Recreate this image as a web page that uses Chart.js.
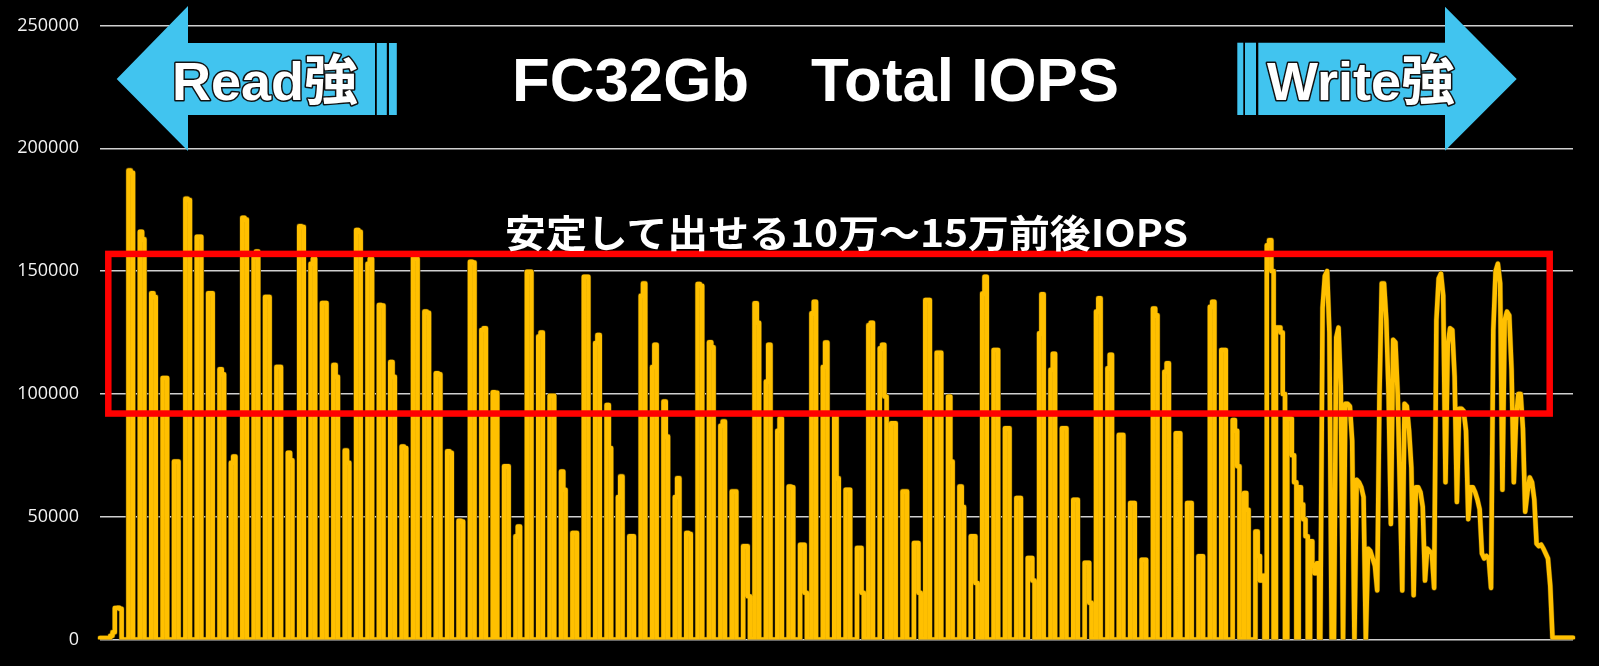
<!DOCTYPE html>
<html lang="ja">
<head>
<meta charset="utf-8">
<title>FC32Gb Total IOPS</title>
<script src="https://cdn.jsdelivr.net/npm/chart.js@4.4.1/dist/chart.umd.min.js"></script>
<style>
    html, body { margin: 0; padding: 0; background: #000; }
    #wrap { position: relative; width: 1599px; height: 666px; overflow: hidden; background: #000; }
    #wrap canvas { position: absolute; left: 0; top: 0; }
    #overlay { position: absolute; left: 0; top: 0; pointer-events: none; }
    .arrowText { font-family: "Liberation Sans", "Noto Sans CJK JP", sans-serif; font-weight: bold; font-size: 54px;
                 fill: #fff; stroke: #111; stroke-width: 3px; paint-order: stroke fill; stroke-linejoin: round; }
</style>
</head>
<body>
<div id="wrap">
    <canvas id="iopsChart" width="1599" height="666"></canvas>
    <svg id="overlay" width="1599" height="666" viewBox="0 0 1599 666" xmlns="http://www.w3.org/2000/svg">
        <!-- Read強 (左向き矢印) -->
        <g fill="#41c4ef">
            <polygon points="116.7,79 188,6 188,43 375,43 375,115 188,115 188,151"/>
            <rect x="376.8" y="43" width="10" height="72"/>
            <rect x="389" y="43" width="7.8" height="72"/>
        </g>
        <text class="arrowText" x="172" y="99.5">Read強</text>

        <!-- Write強 (右向き矢印) -->
        <g fill="#41c4ef">
            <rect x="1237.3" y="42.7" width="6" height="72.3"/>
            <rect x="1245" y="42.7" width="11" height="72.3"/>
            <polygon points="1258.3,42.7 1445,42.7 1445,6.7 1516.7,79 1445,150.7 1445,115 1258.3,115"/>
        </g>
        <text class="arrowText" x="1267" y="99.5">Write強</text>

        <!-- タイトル -->
        <text x="512" y="101" fill="#fff" textLength="607" lengthAdjust="spacingAndGlyphs"
              style="font-family: 'Liberation Sans', 'Noto Sans CJK JP', sans-serif; font-weight: bold; font-size: 62px;">FC32Gb　Total IOPS</text>

        <!-- 注記 -->
        <text x="505" y="247" fill="#fff" textLength="683" lengthAdjust="spacingAndGlyphs"
              style="font-family: 'Noto Sans CJK JP', sans-serif; font-weight: bold; font-size: 38px;">安定して出せる10万～15万前後IOPS</text>
    </svg>
</div>
<script>
// FC32Gb Total IOPS - サンプル毎のIOPS
const leadIn = [600, 600, 600, 600, 600, 1500, 3000, 12800, 12900, 12500, 0, 0];

// Read強側 1〜5 ブロック (1ブロック = 5回の測定)
const runs01to05 = [
    0,191000,190000,0,0, 0,166000,163000,0,0, 0,141000,139500,0,0, 0,106500,106500,0,0, 0,72500,72500,0,0,
    0,179500,179000,0,0, 0,164000,164000,0,0, 0,141000,141000,0,0, 0,110000,108000,0,0, 0,72000,74500,0,0,
    0,171700,171000,0,0, 0,156000,158000,0,0, 0,139500,139500,0,0, 0,111000,111000,0,0, 0,76000,73000,0,0,
    0,168300,168000,0,0, 0,153000,155000,0,0, 0,137000,137000,0,0, 0,111800,107000,0,0, 0,77000,72000,0,0,
    0,166700,166000,0,0, 0,153000,155000,0,0, 0,136200,136000,0,0, 0,113000,107000,0,0, 0,78600,78000,0,0
];

const runs06to10 = [
    0,156000,155000,0,0, 0,133500,133000,0,0, 0,108400,108000,0,0, 0,76600,76000,0,0, 0,48400,48000,0,0,
    0,153800,153500,0,0, 0,126000,126700,0,0, 0,100700,100500,0,0, 0,70500,70500,0,0, 0,42000,46000,0,0,
    0,149700,149700,0,0, 0,123400,125000,0,0, 0,99200,99200,0,0, 0,68400,61000,0,0, 0,43400,43400,0,0,
    0,147700,147700,0,0, 0,120700,124000,0,0, 0,95500,78000,0,0, 0,58000,66400,0,0, 0,42000,42000,0,0,
    0,140000,145000,0,0, 0,111000,120000,0,0, 0,96900,82700,0,0, 0,58000,65700,0,0, 0,43400,43000,0,0
];

const runs11to15 = [
    0,144700,144000,0,0, 0,121000,119000,0,0, 0,87000,88800,0,0, 0,60300,60300,0,0, 0,38000,38000,17600,0,
    0,136900,129000,0,0, 0,105000,120000,0,0, 0,85000,90000,0,0, 0,62300,62000,0,0, 0,38600,38600,19000,0,
    0,132800,137500,0,0, 0,111000,120900,0,0, 0,90800,65700,0,0, 0,61000,61000,0,0, 0,37300,37300,19000,0,
    0,128000,129000,0,0, 0,118600,120000,98900,0, 0,88000,88000,0,0, 0,60300,60300,0,0, 0,39300,39300,19000,0,
    0,138200,138200,0,0, 0,116800,116800,0,0, 0,98900,72500,0,0, 0,62300,54000,0,0, 0,42000,42000,23000,0
];

const runs16to20 = [
    0,140900,147700,0,0, 0,117900,117900,0,0, 0,86000,86000,0,0, 0,57600,57600,0,0, 0,33200,33200,24000,0,
    0,124700,140600,0,0, 0,109800,116300,0,0, 0,86000,86000,0,0, 0,56900,56900,0,0, 0,31200,31200,15000,0,
    0,133500,138900,0,0, 0,110400,115900,0,0, 0,83300,83300,0,0, 0,55600,55600,0,0, 0,32500,32500,0,0,
    0,134800,132000,0,0, 0,109000,112500,0,0, 0,84000,84000,0,0, 0,55600,55600,0,0, 0,33900,33900,0,0,
    0,135500,137500,0,0, 0,117900,117900,0,0, 0,89400,85000,70500,0, 0,59600,52800,0,0, 0,44000,34000,24000,26000
];

// Write強側 21 ブロック (まだ測定間に0が入る)
const runs21 = [
    0,160500,162600,150000, 0,127000,127000,125000,100000, 0,92000,90000,75000,64000, 0,62000,55000,49000,42000, 0,40000,30000,27000,31000, 0
];

// Write強側 22〜25 ブロック (0まで落ちない)
const runs22to25 = [
    135000,148000,150000,125000,0, 0,123000,127000,103000,0, 96000,96000,95000,81000,0, 65000,64000,62000,58000,0, 37000,36000,33000,30000,20000,
    100000,145000,145000,130000,100000, 47000,122000,121000,100000,60000, 20000,96000,95000,85000,70000, 18000,62000,62000,60000,54000, 24000,37000,36000,35000,21000,
    130000,147000,149000,140000,64000, 120000,126700,126000,107000,56000, 94000,94000,93000,85000,49000, 62000,62000,60000,57000,53000, 35000,33000,34000,33000,21000,
    126000,150000,153000,145000,61000, 130000,133500,132000,110000,64000, 90000,100000,100000,86000,52000, 60000,66000,64000,57000,39000, 38000,38600,37000,35000,33000
];

const tailOut = [22000, 700, 700, 700, 700, 700, 700, 700, 700, 700, 700];

const yTicks = [0, 50000, 100000, 150000, 200000, 250000];

// 赤枠: 安定ゾーン (IOPS)
const bandTop = 157000;
const bandBottom = 92000;

const stepPart = [...leadIn, ...runs01to05, ...runs06to10, ...runs11to15, ...runs16to20, ...runs21];
const iops = [...stepPart, ...runs22to25, ...tailOut];
const sampleNo = iops.map((_, i) => i + 1);

// 前半は測定毎の矩形、後半は折れ線で描く (境目の点は両方に含める)
const joinAt = stepPart.length - 1;
const stepView = iops.map((v, i) => (i <= joinAt ? v : null));
const rampView = iops.map((v, i) => (i >= joinAt ? v : null));

// 赤枠を描画
const stableBand = {
    id: 'stableBand',
    afterDatasetsDraw(chart) {
        const { ctx, chartArea: area, scales: { y } } = chart;
        const top = y.getPixelForValue(bandTop);
        const bottom = y.getPixelForValue(bandBottom);
        const left = area.left + 8.3;
        const right = area.right - 23.3;
        ctx.save();
        ctx.strokeStyle = '#ff0000';
        ctx.lineWidth = 6.5;
        ctx.strokeRect(left, top, right - left, bottom - top);
        ctx.restore();
    }
};

const lineStyle = {
    borderJoinStyle: 'round',
    borderCapStyle: 'round',
    pointRadius: 0,
    pointHoverRadius: 0,
    tension: 0,
    fill: false
};

const ctx = document.getElementById('iopsChart').getContext('2d');
new Chart(ctx, {
    type: 'line',
    data: {
        labels: sampleNo,
        datasets: [
            { ...lineStyle, label: 'Total IOPS', data: stepView, stepped: 'middle', borderColor: '#ffc000', borderWidth: 4.5 },
            { ...lineStyle, label: 'Total IOPS (write)', data: rampView, borderColor: '#ffc000', borderWidth: 4.5 },
            // 線の縁取り (暗い影)
            { ...lineStyle, label: 'outline', data: stepView, stepped: 'middle', borderColor: '#4a3800', borderWidth: 5.6 },
            { ...lineStyle, label: 'outline (write)', data: rampView, borderColor: '#4a3800', borderWidth: 5.6 }
        ]
    },
    options: {
        responsive: false,
        animation: false,
        events: [],
        layout: {
            autoPadding: false,
            padding: { left: 0, right: 26, top: 25.5, bottom: 26.5 }
        },
        plugins: {
            legend: { display: false },
            tooltip: { enabled: false },
            title: { display: false }
        },
        scales: {
            x: {
                display: false
            },
            y: {
                min: 0,
                max: 250000,
                afterBuildTicks: (scale) => {
                    scale.ticks = yTicks.map(v => ({ value: v }));
                },
                afterFit: (scale) => {
                    scale.width = 100;
                    // ラベル間隔分の余白は使わない
                    scale.paddingTop = 0;
                    scale.paddingBottom = 0;
                },
                border: { display: false },
                grid: {
                    color: '#cfcfcf',
                    lineWidth: 1.5,
                    drawTicks: false
                },
                ticks: {
                    color: '#f2f2f2',
                    padding: 21,
                    font: { family: 'Open Sans', size: 18 },
                    callback: (v) => String(v)
                }
            }
        }
    },
    plugins: [stableBand]
});
</script>
</body>
</html>
